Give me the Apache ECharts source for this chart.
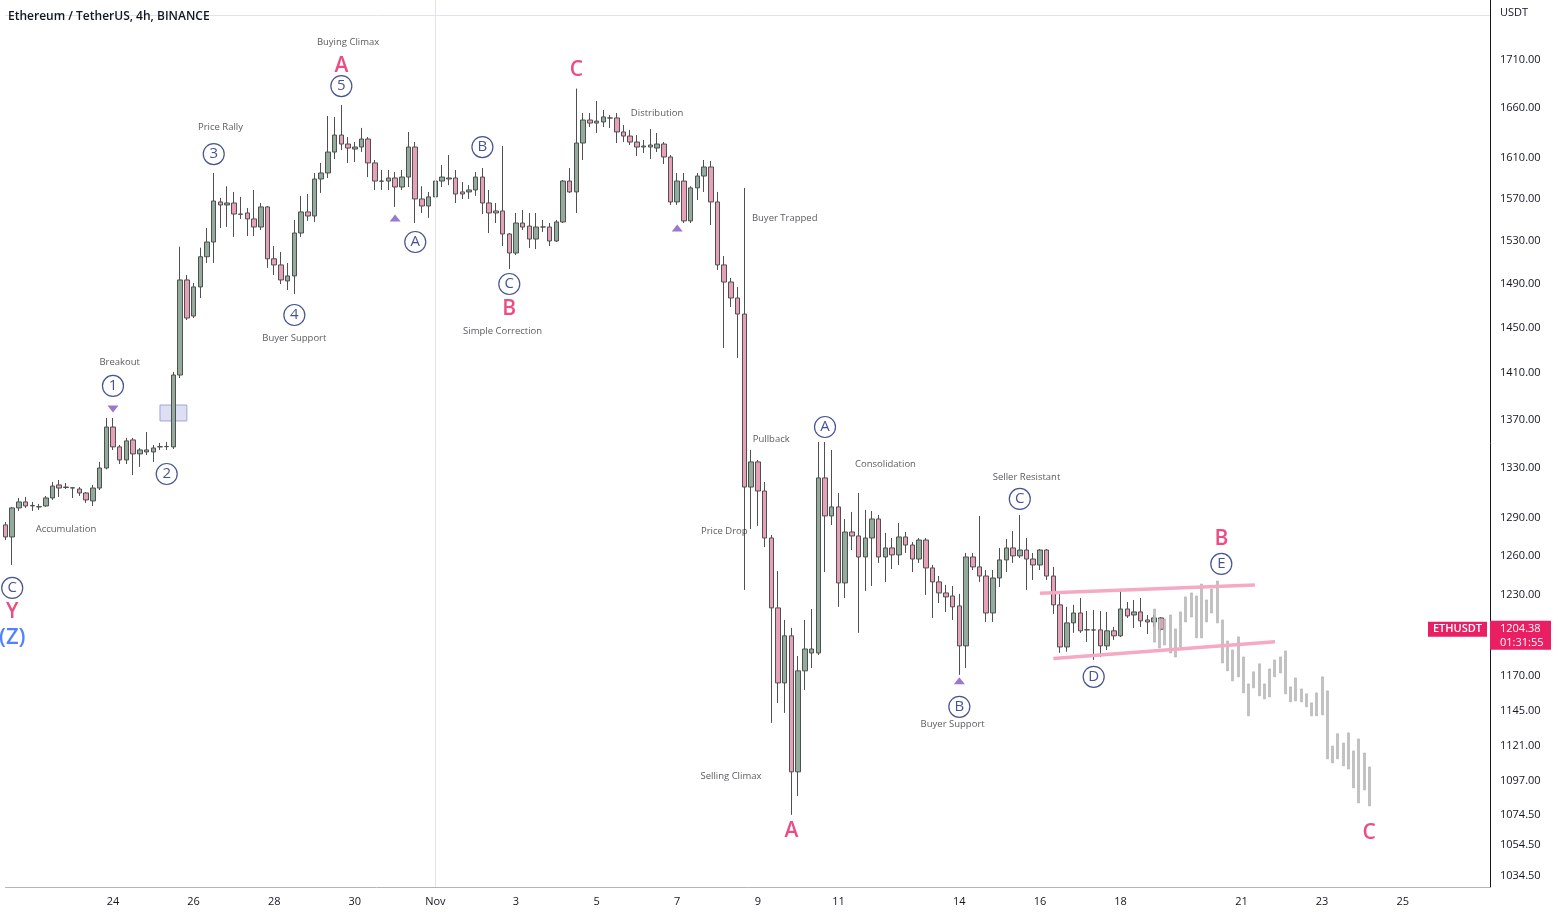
<!DOCTYPE html>
<html><head><meta charset="utf-8">
<script src="https://cdn.jsdelivr.net/npm/echarts@6/dist/echarts.min.js"></script>
<style>html,body{margin:0;padding:0;background:#fff}#c{width:1558px;height:916px}</style>
</head><body><div id="c"></div>
<script>
// ---------- DATA ----------
// first 4h bar shown: 2022-10-21 08:00 (UTC)
const firstBar = Date.UTC(2022, 9, 21, 8);
const barCount = 222;
// candles [open, close, low, high] from 10-21 08:00 to 11-19 00:00
const ohlc = [
[1284.3,1274.8,1272.4,1286.6],[1274.8,1297.8,1253.0,1298.6],[1297.8,1302.6,1295.4,1305.8],[1302.6,1299.4,1297.8,1306.6],
[1299.4,1299.8,1295.4,1302.6],[1298.6,1298.8,1296.2,1301.0],[1299.4,1305.8,1298.6,1307.4],[1305.8,1315.4,1304.2,1318.7],
[1316.3,1313.8,1306.6,1320.3],[1314.6,1314.2,1313.0,1317.9],[1313.8,1314.0,1305.8,1314.6],[1313.0,1309.8,1307.4,1314.6],
[1309.8,1304.2,1301.8,1310.6],[1303.4,1313.8,1299.4,1316.3],[1313.8,1330.1,1312.2,1335.1],[1330.1,1364.1,1329.0,1371.7],
[1364.1,1347.5,1345.0,1371.7],[1347.5,1336.7,1333.4,1349.1],[1336.7,1352.5,1333.4,1355.0],[1353.3,1341.7,1324.4,1355.0],
[1341.7,1345.0,1331.0,1346.6],[1343.3,1345.0,1340.8,1359.9],[1343.3,1346.6,1335.1,1349.1],[1347.5,1347.7,1345.0,1350.8],
[1347.7,1347.9,1345.0,1351.6],[1347.5,1408.5,1345.8,1411.2],[1408.5,1493.4,1405.9,1524.3],[1493.4,1458.8,1457.0,1498.0],
[1460.6,1487.0,1458.8,1490.6],[1487.0,1514.9,1476.9,1523.4],[1514.9,1528.7,1509.1,1542.0],[1528.7,1567.8,1509.1,1595.1],
[1566.9,1564.0,1542.0,1570.8],[1564.0,1565.9,1543.0,1582.1],[1565.9,1555.3,1533.5,1576.6],[1555.3,1555.0,1550.6,1571.8],
[1556.3,1550.6,1534.4,1561.1],[1550.6,1542.9,1534.4,1578.5],[1542.9,1562.1,1540.1,1565.9],[1562.1,1513.0,1504.5,1563.0],
[1513.0,1507.3,1497.9,1524.9],[1507.3,1493.4,1489.7,1519.4],[1492.5,1497.1,1484.2,1509.1],[1497.1,1537.2,1480.6,1549.6],
[1537.2,1557.3,1533.5,1572.8],[1557.3,1553.4,1548.7,1574.6],[1553.4,1589.2,1547.7,1595.1],[1589.2,1595.1,1575.6,1605.0],
[1595.1,1615.8,1590.2,1652.1],[1615.8,1632.8,1608.9,1651.1],[1632.8,1623.8,1617.8,1663.3],[1623.8,1619.8,1605.0,1630.8],
[1618.8,1620.8,1606.0,1625.8],[1620.8,1628.8,1615.8,1640.0],[1628.8,1605.0,1591.1,1630.8],[1605.0,1587.2,1578.5,1607.9],
[1587.2,1587.0,1578.5,1598.0],[1587.2,1590.2,1578.5,1598.0],[1590.2,1581.4,1562.1,1596.0],[1581.4,1591.1,1578.5,1598.0],
[1591.1,1620.8,1581.4,1635.9],[1620.8,1569.8,1546.7,1625.8],[1569.8,1563.0,1556.3,1582.1],[1563.0,1571.8,1551.6,1576.6],
[1571.8,1587.2,1570.8,1605.0],[1587.2,1591.1,1581.4,1603.0],[1589.2,1590.2,1583.2,1612.8],[1590.2,1574.6,1565.9,1598.0],
[1576.6,1574.6,1569.8,1586.2],[1576.6,1578.5,1569.8,1583.2],[1578.5,1591.1,1572.8,1596.0],[1591.1,1565.9,1555.3,1600.0],
[1565.9,1556.3,1537.2,1578.5],[1558.2,1556.3,1546.7,1565.9],[1558.2,1536.3,1524.9,1621.8],[1536.3,1518.4,1503.5,1537.2],
[1518.4,1546.7,1516.5,1556.3],[1546.7,1542.9,1540.1,1559.2],[1543.8,1531.5,1523.1,1556.3],[1531.5,1542.9,1522.1,1556.3],
[1542.9,1543.0,1538.2,1549.6],[1542.9,1529.7,1524.9,1546.7],[1529.7,1547.7,1528.7,1549.6],[1547.7,1587.2,1546.7,1588.2],
[1587.2,1576.6,1575.6,1600.0],[1576.6,1624.8,1556.3,1680.2],[1624.8,1648.0,1607.9,1655.1],[1648.0,1644.9,1640.9,1655.1],
[1644.9,1646.9,1634.9,1667.4],[1646.0,1651.1,1640.9,1658.2],[1650.1,1650.0,1639.9,1653.1],[1650.1,1635.9,1624.8,1655.1],
[1635.9,1631.8,1625.8,1642.9],[1631.8,1625.8,1622.8,1637.9],[1625.8,1620.8,1611.8,1632.8],[1620.8,1621.8,1614.8,1627.8],
[1620.8,1622.8,1608.9,1638.9],[1619.8,1623.8,1615.8,1634.9],[1623.8,1610.9,1603.9,1625.8],[1610.9,1566.9,1564.0,1612.8],
[1566.9,1587.2,1564.0,1595.1],[1587.2,1548.7,1546.7,1595.1],[1548.7,1580.5,1546.7,1582.1],[1580.5,1592.1,1568.8,1595.1],
[1592.1,1601.0,1576.6,1607.9],[1601.0,1566.9,1544.8,1606.9],[1566.9,1507.3,1502.6,1576.6],[1507.3,1491.5,1432.2,1515.6],
[1491.5,1476.9,1468.7,1495.2],[1476.9,1462.4,1423.4,1487.0],[1462.4,1314.6,1233.9,1580.5],[1314.6,1335.1,1281.1,1345.0],
[1335.1,1311.4,1283.5,1336.7],[1311.4,1274.0,1266.9,1318.7],[1274.0,1220.3,1136.9,1276.4],[1220.3,1165.2,1150.9,1248.4],
[1165.2,1199.5,1143.9,1211.3],[1199.5,1103.1,1074.3,1205.4],[1103.1,1173.9,1086.9,1184.7],[1173.9,1189.8,1160.2,1211.3],
[1186.9,1189.8,1176.0,1219.5],[1186.9,1322.0,1185.5,1351.6],[1322.0,1291.4,1247.6,1351.6],[1291.4,1298.6,1284.2,1345.0],
[1298.6,1239.2,1221.1,1309.8],[1239.2,1278.7,1227.8,1289.0],[1278.7,1275.6,1264.6,1294.6],[1275.6,1259.2,1201.7,1309.8],
[1259.2,1274.0,1233.1,1296.2],[1274.0,1289.0,1236.9,1295.4],[1289.0,1259.2,1254.6,1292.2],[1259.2,1266.2,1239.9,1278.0],
[1266.2,1260.8,1249.9,1274.0],[1260.8,1274.8,1253.0,1285.8],[1274.8,1268.5,1262.3,1278.7],[1268.5,1257.6,1247.6,1270.8],
[1257.6,1272.4,1254.6,1274.0],[1272.4,1250.7,1230.1,1274.0],[1250.7,1240.0,1212.8,1253.0],[1240.0,1231.6,1224.0,1244.5],
[1231.6,1228.6,1217.3,1237.7],[1229.3,1221.1,1211.3,1236.9],[1221.8,1192.1,1171.0,1230.9],[1192.1,1259.2,1176.0,1262.3],
[1259.2,1251.5,1249.1,1262.3],[1251.5,1244.5,1240.0,1291.4],[1244.5,1216.5,1209.8,1249.1],[1216.5,1243.0,1209.8,1249.1],
[1243.0,1256.9,1236.1,1266.2],[1256.9,1266.2,1247.6,1273.2],[1266.2,1260.0,1254.6,1279.5],[1260.0,1264.6,1258.4,1292.2],
[1264.6,1257.6,1233.9,1274.0],[1257.6,1253.0,1241.5,1262.3],[1253.0,1264.6,1249.1,1265.4],[1264.6,1244.5,1241.5,1265.4],
[1244.5,1222.6,1215.8,1251.5],[1222.6,1191.3,1187.0,1231.6],[1191.3,1209.1,1187.8,1221.1],[1209.1,1216.5,1201.7,1222.6],
[1216.5,1203.2,1201.7,1227.8],[1203.9,1204.0,1195.0,1218.0],[1203.9,1203.8,1181.8,1218.8],[1203.9,1192.1,1184.0,1218.0],
[1192.1,1203.2,1189.1,1217.3],[1203.2,1199.5,1196.5,1206.1],[1199.5,1219.5,1198.7,1233.9],[1219.5,1214.3,1212.8,1224.8],
[1215.0,1217.3,1205.4,1226.3],[1217.3,1210.6,1206.1,1227.8],[1211.3,1209.8,1200.9,1215.0],[1209.8,1212.8,1206.1,1215.0],
[1212.8,1204.38,1203.0,1213.5]
];
// projected (ghost) bars: low / high
const ghostLow  = [1194.9,1190.6,1192.8,1186.9,1184.0,1191.3,1209.8,1213.5,1198.0,1198.0,1209.8,1216.5,1209.1,1179.6,1173.9,1166.7,1169.6,1158.1,1141.8,1161.7,1156.0,1153.8,1155.2,1169.6,1172.4,1157.4,1151.7,1152.4,1151.7,1148.2,1141.8,1141.8,1142.5,1112.0,1109.2,1112.0,1107.2,1105.1,1092.3,1082.2,1090.9,1080.2];
const ghostHigh = [1219.5,1212.0,1212.0,1215.0,1204.6,1217.3,1228.6,1231.6,1229.3,1238.4,1226.3,1234.6,1240.7,1211.3,1195.7,1189.1,1198.7,1184.0,1164.5,1173.2,1179.0,1164.5,1175.3,1181.8,1184.0,1188.4,1162.4,1168.8,1160.9,1157.4,1151.0,1158.1,1169.6,1159.5,1120.8,1129.3,1122.9,1129.9,1117.4,1125.7,1116.0,1106.5];
const ghostSlots = 284, ghostFirstSlot = 219;
const lastPrice = 1204.38, countdown = '01:31:55';

const yTicks = [1034.5,1054.5,1074.5,1097,1121,1145,1170,1200,1230,1260,1290,1330,1370,1410,1450,1490,1530,1570,1610,1660,1710];
const xTickTimes  = ['10-24 00:00','10-26 00:00','10-28 00:00','10-30 00:00','11-01 00:00','11-03 00:00','11-05 00:00','11-07 00:00','11-09 00:00','11-11 00:00','11-14 00:00','11-16 00:00','11-18 00:00','11-21 00:00','11-23 00:00','11-25 00:00'];
const xTickLabels = ['24','26','28','30','Nov','3','5','7','9','11','14','16','18','21','23','25'];

// annotations: [bar time, price, text]
const waveCircles = [
 ['10-21 12:00',1235.4,'C'],['10-24 00:00',1399.1,'1'],['10-25 08:00',1325.2,'2'],['10-26 12:00',1613.8,'3'],
 ['10-28 12:00',1461.5,'4'],['10-29 16:00',1682.8,'5'],['10-31 12:00',1528.7,'A'],['11-02 04:00',1620.8,'B'],
 ['11-02 20:00',1489.7,'C'],['11-10 16:00',1364.1,'A'],['11-14 00:00',1148.2,'B'],['11-15 12:00',1305.0,'C'],
 ['11-17 08:00',1169.6,'D'],['11-20 12:00',1253.8,'E']
];
const waveLetters = [
 ['10-21 12:00',1217.3,'Y'],['10-29 16:00',1703.7,'A'],['11-02 20:00',1466.9,'B'],['11-04 12:00',1699.5,'C'],
 ['11-09 20:00',1063.8,'A'],['11-20 12:00',1273.2,'B'],['11-24 04:00',1062.5,'C']
];
const degreeLabels = [['10-21 12:00',1197.9,'(Z)']];
const notes = [
 ['10-29 20:00',1729.1,'Buying Climax'],['10-26 16:00',1640.9,'Price Rally'],['10-24 04:00',1419.9,'Breakout'],
 ['10-22 20:00',1281.1,'Accumulation'],['10-28 12:00',1441.0,'Buyer Support'],['11-02 16:00',1447.2,'Simple Correction'],
 ['11-06 12:00',1655.1,'Distribution'],['11-09 16:00',1551.6,'Buyer Trapped'],['11-09 08:00',1354.1,'Pullback'],
 ['11-08 04:00',1279.5,'Price Drop'],['11-08 08:00',1100.4,'Selling Climax'],['11-12 04:00',1333.4,'Consolidation'],
 ['11-15 16:00',1322.8,'Seller Resistant'],['11-13 20:00',1136.2,'Buyer Support']
];
const arrowsUp   = [['10-31 00:00',1551.6],['11-07 00:00',1542.0],['11-14 00:00',1166.7]];
const arrowsDown = [['10-24 00:00',1379.4]];
const channelUpper = [['11-16 00:00',1231.4],['11-21 08:00',1237.7]];
const channelLower = [['11-16 08:00',1182.8],['11-21 20:00',1195.2]];
const boxZone = [['10-25 04:00',1369.2],['10-25 20:00',1382.7]];
const sessionLine = '11-01 00:00';

// ---------- BUILD ----------
const pad = n => String(n).padStart(2,'0');
const categories = [];
for (let k = 0; k < barCount; k++) {
  const d = new Date(firstBar + k*4*3600e3);
  categories.push(pad(d.getUTCMonth()+1)+'-'+pad(d.getUTCDate())+' '+pad(d.getUTCHours())+':00');
}
const ghostCats = [];
const ghostData = [];
for (let k = 0; k < ghostSlots; k++) { ghostCats.push('g'+k); ghostData.push('-'); }
ghostLow.forEach((lo, j) => { ghostData[ghostFirstSlot + j] = [lo, ghostHigh[j], lo, ghostHigh[j]]; });

const FONT = 'Open Sans';
const NAVY = '#18287a', PINK = '#e91e63';
const textSeries = (data, style) => ({
  type: 'scatter', data: data, symbol: 'circle', symbolSize: 2, silent: true, z: 6,
  itemStyle: { color: 'rgba(0,0,0,0)' },
  label: Object.assign({ show: true, position: 'inside', formatter: p => p.data[2], fontFamily: FONT }, style)
});

const chart = echarts.init(document.getElementById('c'), null, {renderer:'canvas'});
chart.setOption({
  animation: false,
  backgroundColor: '#ffffff',
  title: { text: 'Ethereum / TetherUS, 4h, BINANCE', left: 8, top: 11, padding: 0,
    textStyle: { fontFamily: FONT, fontSize: 12, fontWeight: 600, color: '#131722' } },
  grid: { left: 5.5, right: 68, top: 0, bottom: 29, containLabel: false },
  xAxis: [{
    type: 'category', data: categories, boundaryGap: false,
    axisLine: { show: true, lineStyle: { color: '#b2b5be', width: 1 } },
    axisTick: { show: false },
    splitLine: { show: false },
    axisLabel: { interval: (idx, val) => xTickTimes.indexOf(val) >= 0,
      formatter: val => { const j = xTickTimes.indexOf(val); return j >= 0 ? xTickLabels[j] : ''; },
      color: '#131722', fontFamily: FONT, fontSize: 11, margin: 9 }
  }, {
    type: 'category', data: ghostCats, boundaryGap: false, show: false, gridIndex: 0
  }],
  yAxis: [{
    type: 'log', position: 'right', min: 1027.6, max: 1774.4,
    axisLine: { show: true, lineStyle: { color: '#131722', width: 1 } },
    axisTick: { show: false, customValues: yTicks },
    splitLine: { show: false },
    axisLabel: { customValues: yTicks, formatter: v => Number(v).toFixed(2),
      color: '#131722', fontFamily: FONT, fontSize: 11, margin: 10 }
  }],
  series: [{
    type: 'candlestick', name: 'ETHUSDT', data: ohlc, xAxisIndex: 0, yAxisIndex: 0,
    barWidth: 5, clip: false, silent: true,
    itemStyle: { color: '#93ab9c', color0: '#e6a1b8', borderColor: '#4e5150', borderColor0: '#4e5150', borderWidth: 1 },
    markLine: { silent: true, symbol: 'none', label: { show: false },
      lineStyle: { color: '#e0e3eb', width: 1, type: 'solid' },
      data: [{ xAxis: sessionLine }, { yAxis: 1758 }] },
    markArea: { silent: true,
      itemStyle: { color: 'rgba(160,164,222,0.35)', borderColor: '#9fa3dc', borderWidth: 1 },
      data: [[{ xAxis: boxZone[0][0], yAxis: boxZone[0][1] }, { xAxis: boxZone[1][0], yAxis: boxZone[1][1] }]] }
  }, {
    type: 'candlestick', name: 'ghost', data: ghostData, xAxisIndex: 1, yAxisIndex: 0,
    barWidth: 2.5, silent: true,
    itemStyle: { color: '#c2c2c2', color0: '#c2c2c2', borderColor: '#acacac', borderColor0: '#acacac', borderWidth: 0.6 }
  }, {
    type: 'line', data: channelUpper, symbol: 'none', silent: true,
    lineStyle: { color: '#f5a9c3', width: 3.5 }
  }, {
    type: 'line', data: channelLower, symbol: 'none', silent: true,
    lineStyle: { color: '#f5a9c3', width: 3.5 }
  }, {
    type: 'scatter', data: arrowsUp, symbol: 'triangle', symbolSize: [11, 7], silent: true,
    itemStyle: { color: '#7e57c2' }
  }, {
    type: 'scatter', data: arrowsDown, symbol: 'triangle', symbolRotate: 180, symbolSize: [11, 7], silent: true,
    itemStyle: { color: '#7e57c2' }
  }, {
    type: 'scatter', data: waveCircles, symbol: 'circle', symbolSize: 21, silent: true, z: 5,
    itemStyle: { color: '#ffffff', borderColor: NAVY, borderWidth: 1.2 },
    label: { show: true, position: 'inside', formatter: p => p.data[2], color: NAVY,
      fontFamily: FONT, fontSize: 15 }
  },
  textSeries(waveLetters, { color: PINK, fontSize: 21, fontWeight: 600 }),
  textSeries(degreeLabels, { color: '#2962ff', fontSize: 22, fontWeight: 600 }),
  textSeries(notes, { color: '#2f3136', fontSize: 9.5 })
  ]
});

// price tags on the current value
const yTag = chart.convertToPixel({ yAxisIndex: 0 }, lastPrice);
chart.setOption({ graphic: [
  { type: 'text', left: 1500, top: 7, z: 100, style: { text: 'USDT', fill: '#131722', font: '11px "Open Sans"' } },
  { type: 'rect', z: 100, shape: { x: 1428, y: yTag - 7.5, width: 59, height: 15 }, style: { fill: PINK } },
  { type: 'text', z: 101, x: 1457.5, y: yTag, style: { text: 'ETHUSDT', fill: '#fff', font: '600 11px "Open Sans"', align: 'center', verticalAlign: 'middle' } },
  { type: 'rect', z: 100, shape: { x: 1490, y: yTag - 8.5, width: 61, height: 29 }, style: { fill: PINK } },
  { type: 'text', z: 101, x: 1500, y: yTag, style: { text: lastPrice.toFixed(2), fill: '#fff', font: '11px "Open Sans"', align: 'left', verticalAlign: 'middle' } },
  { type: 'text', z: 101, x: 1500, y: yTag + 13.5, style: { text: countdown, fill: '#fff', font: '11px "Open Sans"', align: 'left', verticalAlign: 'middle' } }
]});
</script></body></html>
